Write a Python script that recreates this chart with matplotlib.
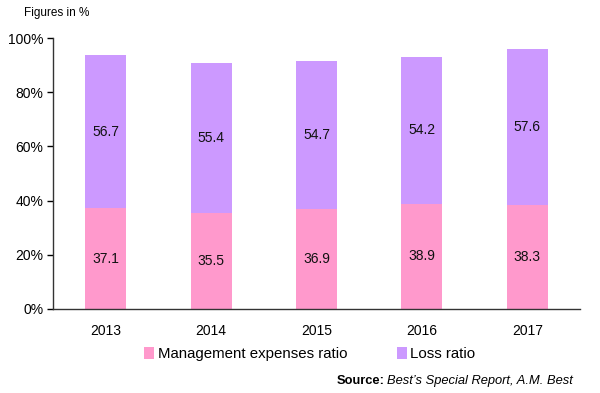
import matplotlib
matplotlib.use("Agg")
import matplotlib.pyplot as plt
import numpy as np

years = ["2013", "2014", "2015", "2016", "2017"]
mgmt = [37.1, 35.5, 36.9, 38.9, 38.3]
loss = [56.7, 55.4, 54.7, 54.2, 57.6]
yticks = [0, 20, 40, 60, 80, 100]

plt.rcParams['font.family'] = ['Liberation Sans', 'DejaVu Sans']

fig = plt.figure(figsize=(6, 3.93), dpi=100)
ax = fig.add_axes([53/600, 1-309/393, (580-53)/600, (309-38)/393])

x = np.arange(len(years))
w = 0.39
pink = "#FF99CC"
purple = "#CC99FF"
b1 = ax.bar(x, mgmt, w, color=pink, label="Management expenses ratio")
b2 = ax.bar(x, loss, w, bottom=mgmt, color=purple, label="Loss ratio")

for i in range(len(years)):
    ax.text(x[i], mgmt[i]/2, f"{mgmt[i]:.1f}", ha="center", va="center", fontsize=10, color="#111111")
    ax.text(x[i], mgmt[i] + loss[i]/2, f"{loss[i]:.1f}", ha="center", va="center", fontsize=10, color="#111111")

ax.set_xlim(-0.5, len(years)-0.5)
ax.set_ylim(0, 100)
ax.set_yticks(yticks)
ax.set_yticklabels([f"{v}%" for v in yticks], fontsize=10)
ax.set_xticks(x)
ax.set_xticklabels(years, fontsize=10)
ax.tick_params(axis="x", length=0, pad=11)
ax.tick_params(axis="y", length=4, width=1, direction="out", pad=3)
for s in ["top", "right"]:
    ax.spines[s].set_visible(False)
for s in ["left", "bottom"]:
    ax.spines[s].set_color("#333333")
    ax.spines[s].set_linewidth(1)

fig.text(57/600, 1-13/393, "Figures in %", fontsize=8.5, ha="center", va="center")

leg = fig.legend(handles=[b1, b2], loc="center", bbox_to_anchor=(310/600, 1-354/393),
                 ncol=2, frameon=False, fontsize=10.8, handlelength=0.65, handleheight=0.9,
                 handletextpad=0.25, columnspacing=3.3)

t2 = fig.text(573/600, 1-381/393, "Best’s Special Report, A.M. Best", fontsize=9.3,
              style="italic", ha="right", va="center")
fig.canvas.draw()
bb = t2.get_window_extent(renderer=fig.canvas.get_renderer())
fig.text((bb.x0 - 2)/600, 1-381/393, "Source:", fontsize=9.3, weight="bold", ha="right", va="center")

fig.savefig("out.png", dpi=100)
